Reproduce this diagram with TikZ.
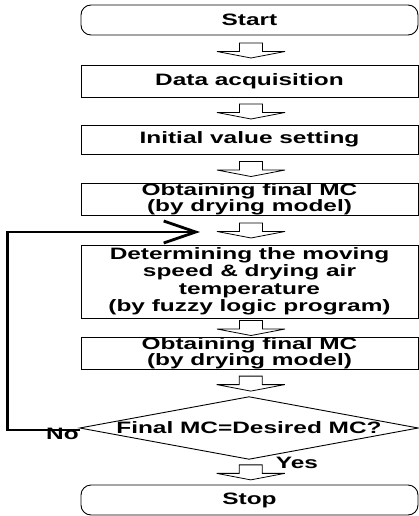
\documentclass[tikz,border=0pt]{standalone}
\usepackage{fontspec}
\newfontfamily\labfont[FakeStretch=1.48]{Liberation Sans Bold}
\usetikzlibrary{arrows.meta}
\tikzset{
  box/.style={draw, line width=0.9pt, minimum width=337pt, inner sep=0pt, align=center,
    font=\labfont\fontsize{16.5}{17.5}\selectfont},
  term/.style={box, rounded corners=10pt},
  tight/.style={font=\labfont\fontsize{16.5}{12.5}\selectfont},
  lbl/.style={inner sep=0pt, font=\labfont\fontsize{16.5}{17.5}\selectfont},
  fbline/.style={line width=2.8pt, -{Straight Barb[length=32pt,width=22pt,line width=2.8pt]}},
  barrow/.pic={
    \draw[line width=0.8pt, fill=white]
      (-11.5,-7) -- (11.5,-7) -- (11.5,1.5) -- (34,1.5) -- (0,8) -- (-34,1.5) -- (-11.5,1.5) -- cycle;
  }
}
\begin{document}
\begin{tikzpicture}[x=1pt,y=-1pt]
\useasboundingbox (0,0) rectangle (419,516);
\node[term, minimum height=30pt] (start) at (249.5,20) {Start};
\node[box, minimum height=32pt] (data) at (249.5,81) {Data acquisition};
\node[box, minimum height=29pt] (init) at (249.5,139.5) {Initial value setting};
\node[box, tight, minimum height=30pt] (obt1) at (249.5,199) {Obtaining final MC\\(by drying model)};
\node[box, minimum height=73pt] (det) at (249.5,281.5) {Determining the moving\\speed \& drying air\\temperature\\(by fuzzy logic program)};
\node[box, tight, minimum height=28pt] (obt2) at (249.5,353) {Obtaining final MC\\(by drying model)};
\node[lbl, minimum width=338pt, minimum height=62pt] (dec) at (249,428) {Final MC=Desired MC?};
\draw[line width=0.9pt] (dec.west) -- (dec.north) -- (dec.east) -- (dec.south) -- cycle;
\node[term, minimum height=30pt] (stop) at (249.5,500) {Stop};

\path (start.south) -- (data.north) coordinate[pos=0.5] (m1);
\path (data.south) -- (init.north) coordinate[pos=0.5] (m2);
\path (init.south) -- (obt1.north) coordinate[pos=0.5] (m3);
\path (obt1.south) -- (det.north) coordinate[pos=0.5] (m4);
\path (det.south) -- (obt2.north) coordinate[pos=0.5] (m5);
\path (obt2.south) -- (dec.north) coordinate[pos=0.5] (m6);
\path (dec.south) -- (stop.north) coordinate[pos=0.5] (m7);
\foreach \m in {m1,m2,m3,m4,m5,m6,m7} { \pic at ([xshift=1.5pt]\m) {barrow}; }

\coordinate (fbend) at (200,232);
\draw[fbline] ([yshift=-2pt]dec.west) -- ++(-72,0) |- (fbend);
\node[lbl] (no) at (62.5,434) {No};
\node[lbl] (yes) at (297,463) {Yes};
\end{tikzpicture}
\end{document}
